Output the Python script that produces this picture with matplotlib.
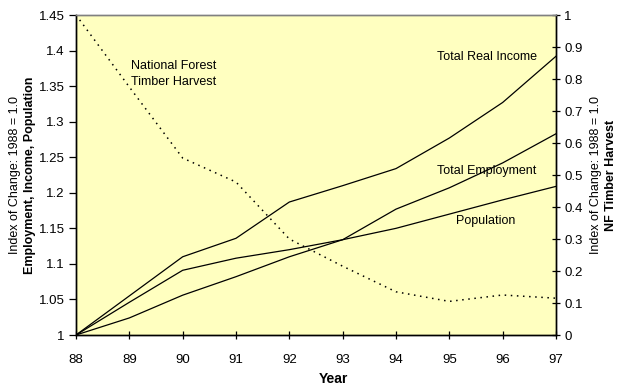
import matplotlib
matplotlib.use("Agg")
import matplotlib.pyplot as plt

years = [88, 89, 90, 91, 92, 93, 94, 95, 96, 97]
income = [1.0, 1.055, 1.110, 1.136, 1.187, 1.210, 1.234, 1.277, 1.327, 1.392]
employment = [1.0, 1.024, 1.056, 1.082, 1.110, 1.134, 1.177, 1.207, 1.242, 1.283]
population = [1.0, 1.046, 1.091, 1.108, 1.120, 1.134, 1.150, 1.170, 1.190, 1.209]
timber = [1.0, 0.775, 0.553, 0.478, 0.300, 0.215, 0.135, 0.105, 0.125, 0.115]

left_ticks = [1, 1.05, 1.1, 1.15, 1.2, 1.25, 1.3, 1.35, 1.4, 1.45]
left_labels = ["1", "1.05", "1.1", "1.15", "1.2", "1.25", "1.3", "1.35", "1.4", "1.45"]
right_ticks = [0, 0.1, 0.2, 0.3, 0.4, 0.5, 0.6, 0.7, 0.8, 0.9, 1]
right_labels = ["0", "0.1", "0.2", "0.3", "0.4", "0.5", "0.6", "0.7", "0.8", "0.9", "1"]

plt.rcParams['font.family'] = ['Liberation Sans', 'DejaVu Sans']

fig = plt.figure(figsize=(6.28, 3.88), dpi=100)
ax = fig.add_axes([76/628, 53/388, 480/628, 320/388])
ax.set_facecolor('#FFFFC0')

ax.plot(years, income, color='black', lw=0.9)
ax.plot(years, employment, color='black', lw=0.9)
ax.plot(years, population, color='black', lw=0.9)
ax.set_xlim(88, 97)
ax.set_ylim(1.0, 1.45)
ax.set_xticks(years)
ax.set_xticklabels([str(y) for y in years], fontsize=9.5)
ax.set_yticks(left_ticks)
ax.set_yticklabels(left_labels, fontsize=9.5)
ax.tick_params(axis='y', direction='out', length=5, width=0.9, pad=3)
ax.tick_params(axis='x', direction='inout', length=6, width=0.9, pad=11)

ax2 = ax.twinx()
ax2.plot(years, timber, color='black', lw=1.1, linestyle=(0, (1, 3)))
ax2.set_ylim(0, 1)
ax2.set_yticks(right_ticks)
ax2.set_yticklabels(right_labels, fontsize=9.5)
ax2.tick_params(axis='y', direction='inout', length=6, width=0.9, pad=3)

for a in (ax, ax2):
    a.spines['top'].set_color('#808080')
    for s in ('top', 'left', 'right', 'bottom'):
        a.spines[s].set_linewidth(1.0)

fig.text(131/628, 1 - 66/388, "National Forest", fontsize=9, ha='left', va='center')
fig.text(131/628, 1 - 82/388, "Timber Harvest", fontsize=9, ha='left', va='center')
fig.text(437/628, 1 - 57/388, "Total Real Income", fontsize=9, ha='left', va='center')
fig.text(437/628, 1 - 171/388, "Total Employment", fontsize=9, ha='left', va='center')
fig.text(456/628, 1 - 221/388, "Population", fontsize=9, ha='left', va='center')

fig.text(15/628, 1 - 175/388, "Index of Change: 1988 = 1.0", fontsize=9, rotation=90, ha='center', va='center')
fig.text(30/628, 1 - 175/388, "Employment, Income, Population", fontsize=9, fontweight='bold', rotation=90, ha='center', va='center')
fig.text(596/628, 1 - 175/388, "Index of Change: 1988 = 1.0", fontsize=9, rotation=90, ha='center', va='center')
fig.text(611/628, 1 - 175/388, "NF Timber Harvest", fontsize=9, fontweight='bold', rotation=90, ha='center', va='center')
fig.text(333/628, 1 - 379/388, "Year", fontsize=10, fontweight='bold', ha='center', va='center')

fig.savefig("out.png", dpi=100, facecolor='white')
